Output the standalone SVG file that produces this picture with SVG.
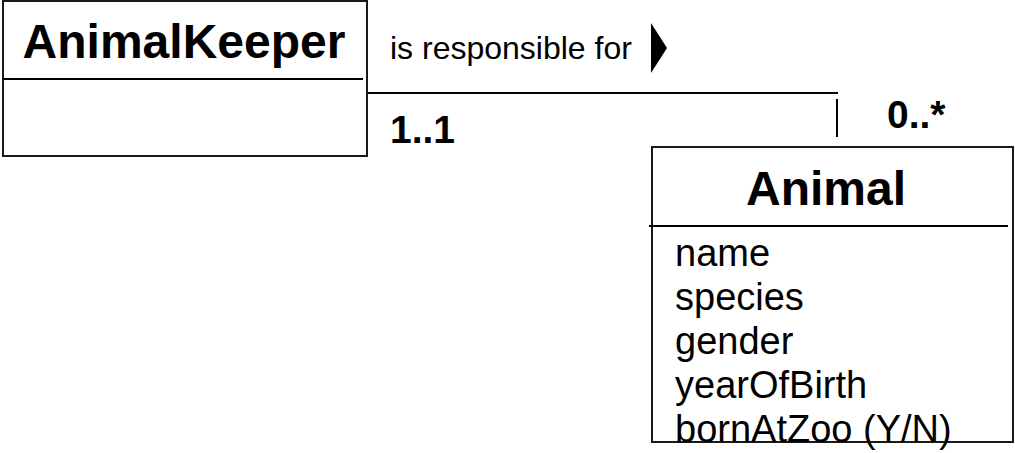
<svg xmlns="http://www.w3.org/2000/svg" width="1015" height="453" viewBox="0 0 1015 453">
<style>
.box{fill:#fff;stroke:#1a1a1a;stroke-width:2}
.ln{stroke:#000;stroke-width:2;fill:none}
.title{font-family:"Liberation Sans",Arial,sans-serif;font-weight:bold;font-size:48px;fill:#000}
.attr{font-family:"Liberation Sans",Arial,sans-serif;font-size:38px;fill:#000}
.lbl{font-family:"Liberation Sans",Arial,sans-serif;font-size:32px;fill:#000}
.mult{font-family:"Liberation Sans",Arial,sans-serif;font-weight:bold;font-size:39px;fill:#000}
</style>
<rect width="1015" height="453" fill="#fff"/>
<g id="connectors">
<line class="ln" x1="367" y1="93" x2="838" y2="93"/>
<line class="ln" x1="837" y1="99" x2="837" y2="137"/>
<text class="lbl" x="390" y="59">is responsible for</text>
<polygon points="651,23 667,48 651,73" fill="#000"/>
<text class="mult" x="390" y="143">1..1</text>
<text class="mult" x="887" y="128">0..*</text>
</g>
<g id="AnimalKeeper">
<rect class="box" x="3" y="1" width="364" height="155"/>
<line class="ln" x1="3" y1="79" x2="363" y2="79"/>
<text class="title" x="184" y="58" text-anchor="middle">AnimalKeeper</text>
</g>
<g id="Animal">
<rect class="box" x="652" y="147" width="361" height="295"/>
<line class="ln" x1="649" y1="226" x2="1008" y2="226"/>
<text class="title" x="826" y="205" text-anchor="middle">Animal</text>
<text class="attr" x="675" y="266">name</text>
<text class="attr" x="675" y="310">species</text>
<text class="attr" x="675" y="354">gender</text>
<text class="attr" x="675" y="398">yearOfBirth</text>
<text class="attr" x="675" y="442">bornAtZoo (Y/N)</text>
</g>
</svg>
